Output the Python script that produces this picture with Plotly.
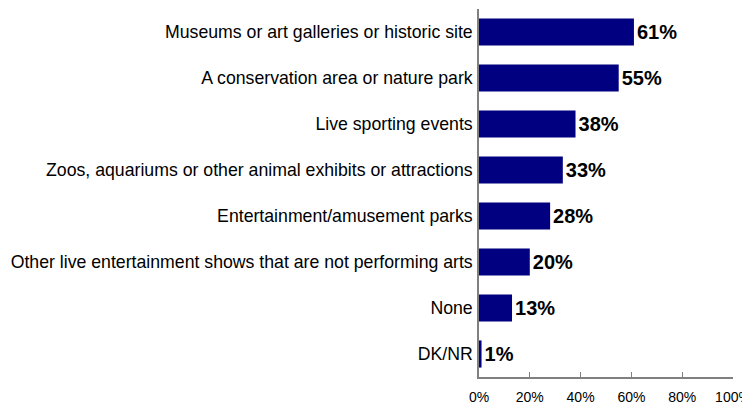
import plotly.graph_objects as go

categories = [
    "Museums or art galleries or historic site",
    "A conservation area or nature park",
    "Live sporting events",
    "Zoos, aquariums or other animal exhibits or attractions",
    "Entertainment/amusement parks",
    "Other live entertainment shows that are not performing arts",
    "None",
    "DK/NR",
]
values = [61, 55, 38, 33, 28, 20, 13, 1]
tick_vals = [0, 20, 40, 60, 80, 100]
tick_text = ["0%", "20%", "40%", "60%", "80%", "100%"]

fig = go.Figure(go.Bar(
    y=categories,
    x=values,
    orientation="h",
    marker=dict(color="#000080", line=dict(width=0)),
    width=0.59,
    text=[f"{v}%" for v in values],
    textposition="outside",
    textfont=dict(family="Liberation Sans, Arial", size=20, color="black", weight="bold"),
    cliponaxis=False,
))

# page body has an 8px default margin, so the figure is 742x396
fig.update_layout(
    width=742, height=396,
    margin=dict(l=471, r=17, t=1, b=27, autoexpand=False),
    paper_bgcolor="white", plot_bgcolor="white",
    showlegend=False,
    font=dict(family="Liberation Sans, Arial", color="black"),
    xaxis=dict(
        range=[0, 100], tickvals=tick_vals, ticktext=tick_text,
        showgrid=False, zeroline=False, automargin=False,
        showline=True, linecolor="#808080", linewidth=1.5,
        ticks="inside", ticklen=5, tickcolor="#808080",
        ticklabelstandoff=6, ticklabeloverflow="allow",
        tickfont=dict(size=14, color="black"),
    ),
    yaxis=dict(
        autorange="reversed", automargin=False,
        showgrid=False, zeroline=False,
        showline=True, linecolor="#808080", linewidth=1.5,
        ticks="", ticklabelstandoff=1,
        tickfont=dict(size=17.7, color="black"),
    ),
)

fig.write_html("out.html")
